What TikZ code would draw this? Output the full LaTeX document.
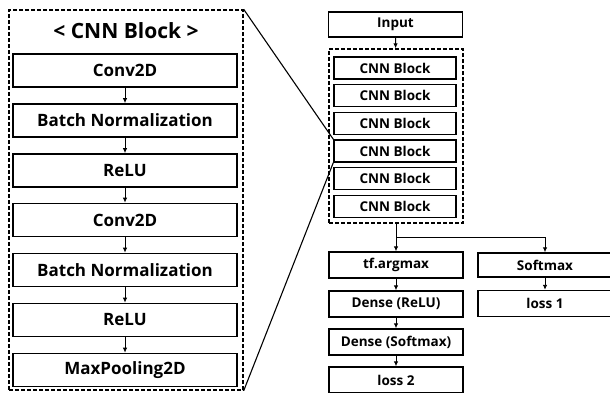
\documentclass[tikz,border=0pt]{standalone}
\usepackage{fontspec}
\setmainfont{Open Sans}
\usetikzlibrary{arrows.meta}

\begin{document}
\begin{tikzpicture}[x=1pt, y=-1pt,
    layer/.style={draw, line width=1.6pt, minimum width=224pt, minimum height=33pt, inner sep=0pt, font=\fontsize{17}{20}\selectfont\bfseries},
    block/.style={draw, line width=1.4pt, minimum width=122pt, minimum height=22pt, inner sep=0pt, font=\fontsize{13.5}{16}\selectfont\bfseries},
    head/.style={draw, line width=1.4pt, minimum width=134pt, minimum height=26pt, inner sep=0pt, font=\fontsize{13.5}{16}\selectfont\bfseries},
    group/.style={draw, dashed, line width=1.4pt, dash pattern=on 4pt off 2pt, inner sep=0pt},
    flow/.style={-{Latex[length=5pt, width=4.5pt]}, line width=0.9pt}]
    \clip (0, 0) rectangle (610, 392);

    % Inside of one CNN block
    \node[group, minimum width=234pt, minimum height=380pt] (cnnblk) at (126, 200) {};
    \node[font=\fontsize{21}{24}\selectfont\bfseries] (title) at (126, 31) {< CNN Block >};
    \node[layer] (conva) at (125, 70.5) {Conv2D};
    \node[layer] (bna) at (125, 120.5) {Batch Normalization};
    \node[layer] (relua) at (125, 170.5) {ReLU};
    \node[layer] (convb) at (125, 220) {Conv2D};
    \node[layer] (bnb) at (125, 270) {Batch Normalization};
    \node[layer] (relub) at (125, 320) {ReLU};
    \node[layer] (pool) at (125, 370) {MaxPooling2D};
    \draw[flow] (conva) -- (bna);
    \draw[flow] (bna) -- (relua);
    \draw[flow] (relua) -- (convb);
    \draw[flow] (convb) -- (bnb);
    \draw[flow] (bnb) -- (relub);
    \draw[flow] (relub) -- (pool);

    % Whole network
    \node[head, minimum height=25pt] (input) at (395.5, 24.5) {Input};
    \node[group, minimum width=134pt, minimum height=174pt] (cnnnet) at (396, 136) {};
    \foreach \i in {1,...,6}
        \node[block] (cnn\i) at (395, 40.35 + 27.65*\i) {CNN Block};
    \draw[flow] (input) -- (cnnnet);

    % Zoom lines
    \draw[line width=1.1pt] (cnnblk.north east) -- (cnn4.north west);
    \draw[line width=1.1pt] (cnnblk.south east) -- (cnn4.south west);

    % Heads
    \coordinate (split) at (396, 237);
    \node[head] (argmax) at (396, 265) {tf.argmax};
    \node[head] (densea) at (396, 304) {Dense (ReLU)};
    \node[head] (denseb) at (396, 342) {Dense (Softmax)};
    \node[head] (lossb) at (396, 380) {loss 2};
    \node[head, minimum height=24pt] (softmax) at (545, 265) {Softmax};
    \node[head] (lossa) at (545, 303.5) {loss 1};
    \draw[line width=0.9pt] (cnnnet) -- (split);
    \draw[flow] (split) -- (argmax);
    \draw[flow] (split) -| (softmax);
    \draw[flow] (argmax) -- (densea);
    \draw[flow] (densea) -- (denseb);
    \draw[flow] (denseb) -- (lossb);
    \draw[flow] (softmax) -- (lossa);
\end{tikzpicture}
\end{document}
